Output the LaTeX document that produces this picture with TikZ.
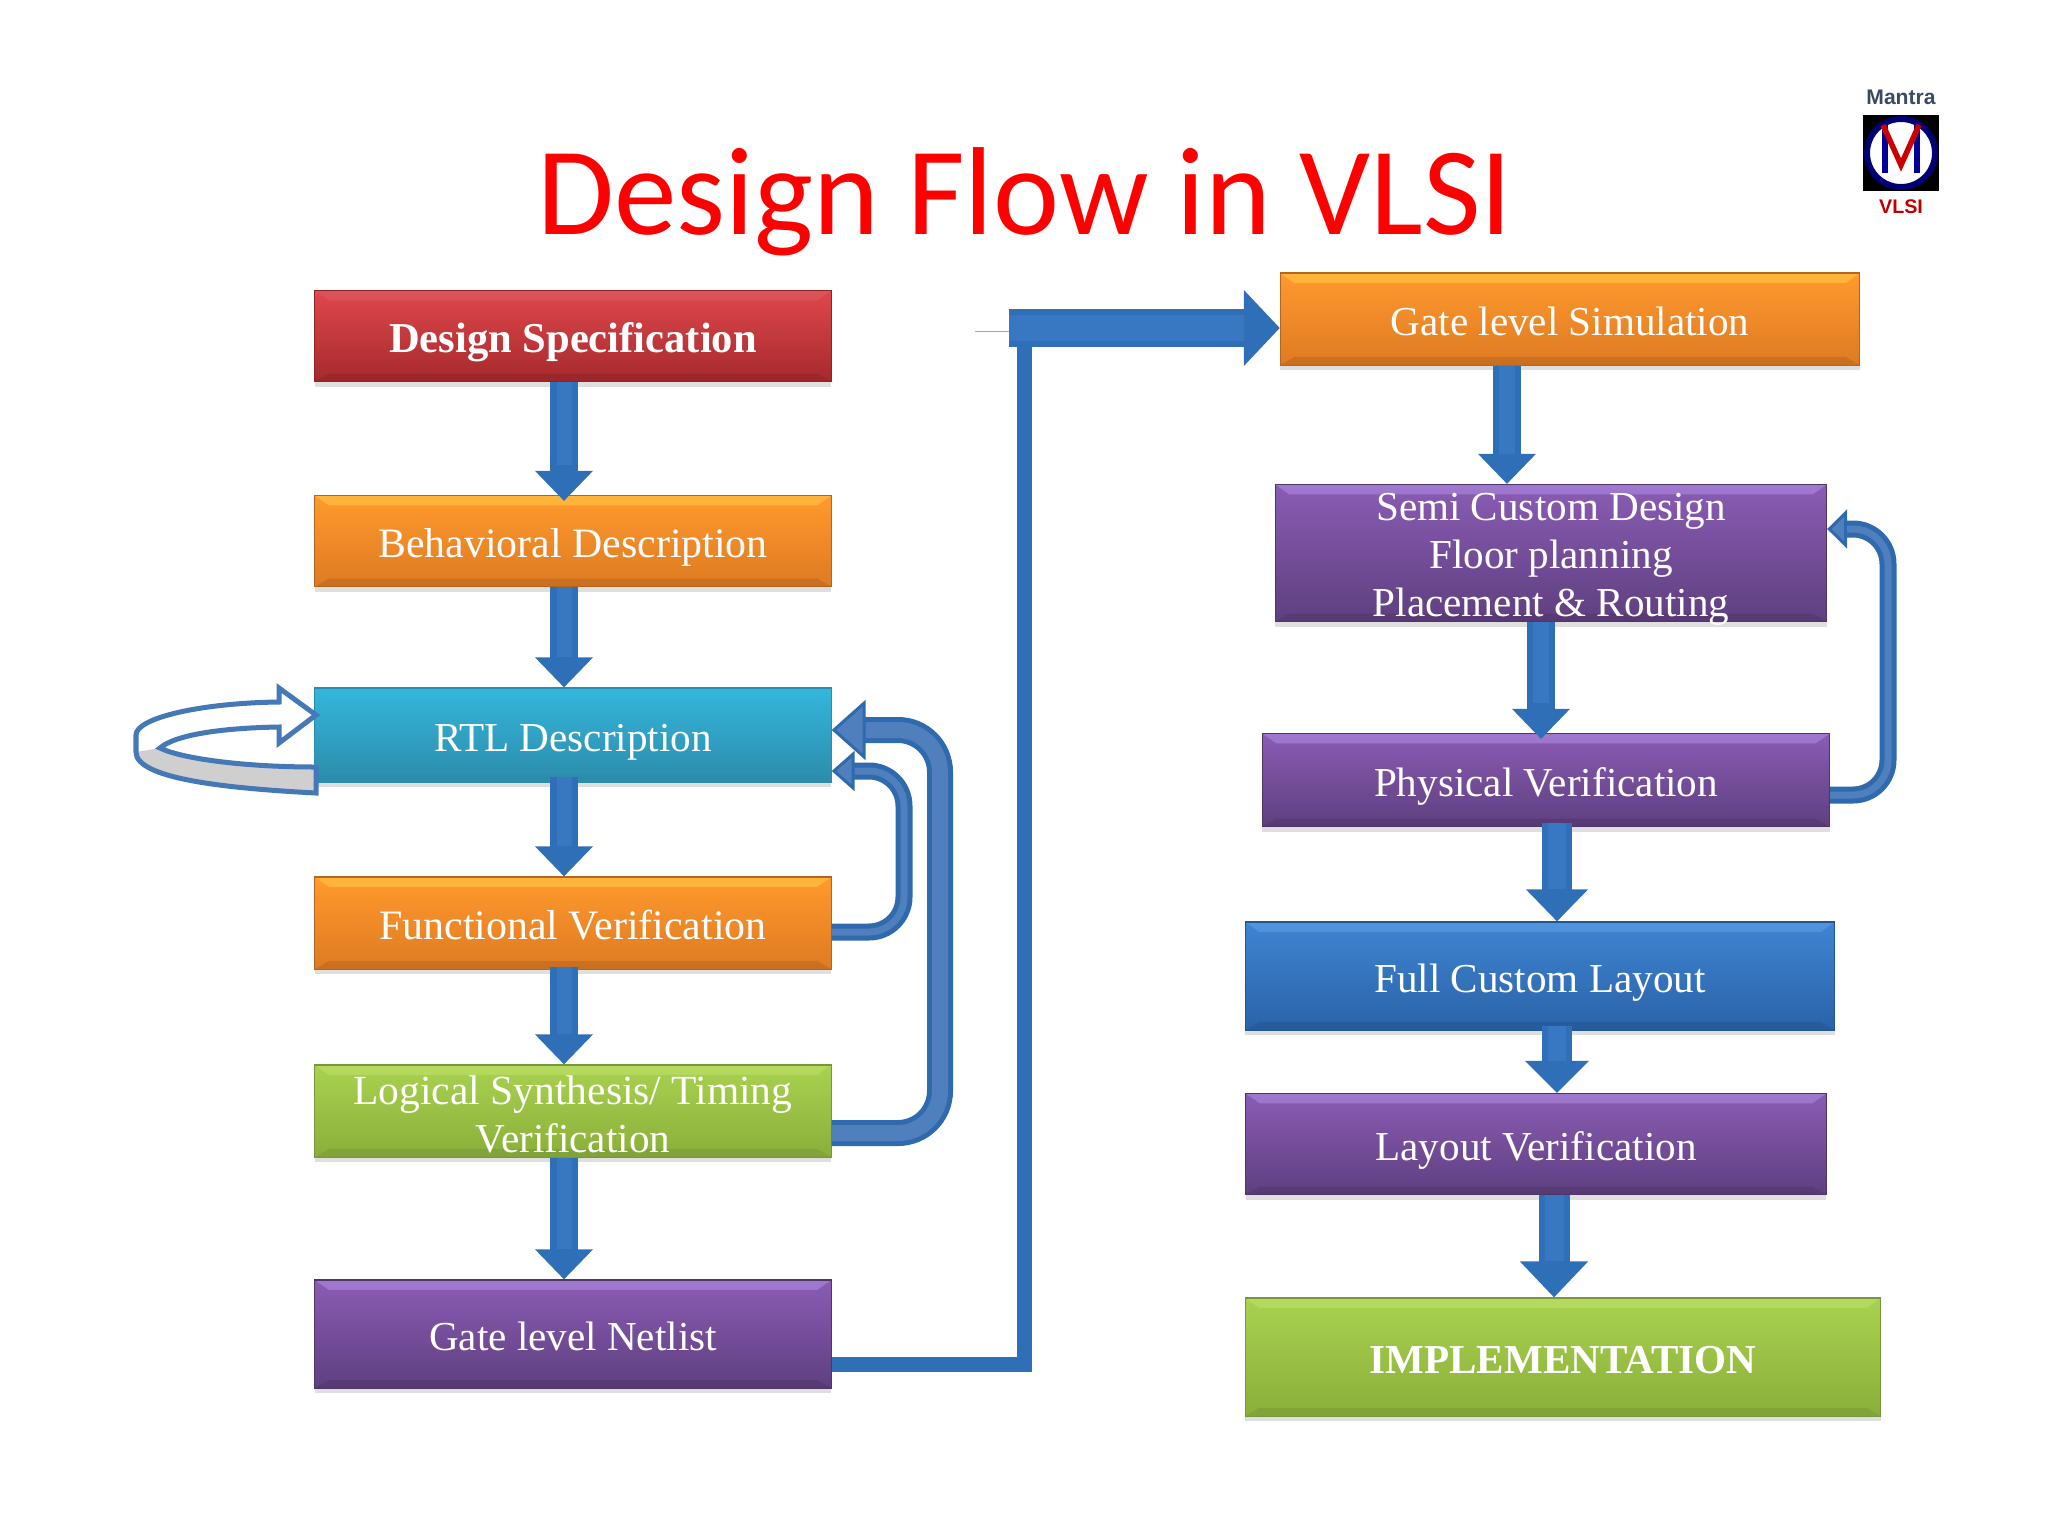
\documentclass[tikz,border=0pt]{standalone}
\usepackage{fontspec}
\setmainfont{Liberation Serif}
\newfontfamily\titlefont{Carlito}
\newfontfamily\logofont{Liberation Sans}
\usetikzlibrary{arrows.meta,shadows}

\definecolor{arrowblue}{HTML}{2F6FB8}
\definecolor{arrowhigh}{HTML}{3878C2}
\definecolor{loopdark}{HTML}{2F69AE}
\definecolor{looplight}{HTML}{4F7FBD}
\definecolor{loopgray}{HTML}{CFCFCF}
\definecolor{logoslate}{HTML}{3B4A63}

\definecolor{redtop}{HTML}{E0474C}
\definecolor{redbot}{HTML}{A52A2C}
\definecolor{redhi}{HTML}{D9595C}
\definecolor{redlo}{HTML}{8F2426}
\definecolor{orangetop}{HTML}{FF9A2E}
\definecolor{orangebot}{HTML}{DE7A22}
\definecolor{orangehi}{HTML}{FFC040}
\definecolor{orangelo}{HTML}{B5651F}
\definecolor{tealtop}{HTML}{34B6DC}
\definecolor{tealbot}{HTML}{2C8CAB}
\definecolor{tealhi}{HTML}{34B6DC}
\definecolor{teallo}{HTML}{2C8CAB}
\definecolor{greentop}{HTML}{A9D24F}
\definecolor{greenbot}{HTML}{8AAF3A}
\definecolor{greenhi}{HTML}{BBDD66}
\definecolor{greenlo}{HTML}{76983A}
\definecolor{purpletop}{HTML}{8A5CB4}
\definecolor{purplebot}{HTML}{5F3F80}
\definecolor{purplehi}{HTML}{A884DA}
\definecolor{purplelo}{HTML}{503569}
\definecolor{bluetop}{HTML}{3F85D2}
\definecolor{bluebot}{HTML}{2A62A8}
\definecolor{bluehi}{HTML}{5A9BE0}
\definecolor{bluelo}{HTML}{24558F}

\tikzset{
    flowbox/.style={
        draw=#1lo, line width=0.3pt, inner sep=0pt, align=center, text=white,
        top color=#1top, bottom color=#1bot,
        font=\fontsize{11.7}{13.7}\selectfont,
        text height=0.33cm, text depth=0cm,
        drop shadow={opacity=0.25, shadow xshift=0cm, shadow yshift=-0.05cm},
        path picture={
            \fill[#1hi, opacity=0.7] (path picture bounding box.north west) -- (path picture bounding box.north east)
                -- ([xshift=-0.14cm,yshift=-0.1cm]path picture bounding box.north east)
                -- ([xshift=0.14cm,yshift=-0.1cm]path picture bounding box.north west) -- cycle;
            \fill[#1lo, opacity=0.5] (path picture bounding box.south west) -- (path picture bounding box.south east)
                -- ([xshift=-0.14cm,yshift=0.08cm]path picture bounding box.south east)
                -- ([xshift=0.14cm,yshift=0.08cm]path picture bounding box.south west) -- cycle;
        }
    },
    downarrow/.style n args={3}{
        draw=arrowblue, line width=#1cm,
        -{Triangle[length=#2cm,width=#3cm,fill=arrowblue]},
        postaction={draw=arrowhigh, line width=#1cm-0.12cm, -, shorten >=#2cm}
    },
    uarrow/.style n args={4}{
        draw=loopdark, line width=#1cm, rounded corners=#4cm,
        -{Triangle[length=#2cm,width=#3cm,fill=looplight,line width=0.03cm]},
        postaction={draw=looplight, line width=#1cm-0.1cm, -, shorten >=#2cm}
    }
}
\begin{document}
\begin{tikzpicture}[x=0.01cm,y=-0.01cm]
    \useasboundingbox (0,0) rectangle (2048,1536);

    % Title
    \node[text=red, font=\titlefont\fontsize{35.6}{38}\selectfont] (title) at (1025,202) {Design Flow in VLSI};

    % Nodes for the left column
    \node[flowbox=red, minimum width=5.16cm, minimum height=0.91cm] (spec) at (573,336) {\fontsize{12.1}{14}\selectfont\textbf{Design Specification}};
    \node[flowbox=orange, minimum width=5.16cm, minimum height=0.91cm] (behav) at (573,541) {\fontsize{11.9}{14}\selectfont Behavioral Description};
    \node[flowbox=teal, minimum width=5.16cm, minimum height=0.94cm] (rtl) at (573,735) {RTL Description};
    \node[flowbox=orange, minimum width=5.16cm, minimum height=0.92cm] (func) at (573,923) {\fontsize{11.9}{14}\selectfont Functional Verification};
    \node[flowbox=green, minimum width=5.16cm, minimum height=0.92cm, text height=0.83cm] (logic) at (573,1111) {\fontsize{11.8}{13.7}\selectfont Logical Synthesis/ Timing\\Verification};
    \node[flowbox=purple, minimum width=5.16cm, minimum height=1.08cm] (net) at (573,1334) {Gate level Netlist};

    % Nodes for the right column
    \node[flowbox=orange, minimum width=5.79cm, minimum height=0.92cm] (sim) at (1570,319) {Gate level Simulation};
    \node[flowbox=purple, minimum width=5.51cm, minimum height=1.37cm, text height=1.27cm] (semi) at (1551,553) {Semi Custom Design\\Floor planning\\Placement \& Routing};
    \node[flowbox=purple, minimum width=5.67cm, minimum height=0.93cm] (phys) at (1546,780) {Physical Verification};
    \node[flowbox=blue, minimum width=5.89cm, minimum height=1.08cm] (full) at (1540,976) {Full Custom Layout};
    \node[flowbox=purple, minimum width=5.80cm, minimum height=1.01cm] (layout) at (1536,1144) {Layout Verification};
    \node[flowbox=green, minimum width=6.35cm, minimum height=1.18cm] (impl) at (1563,1357) {\fontsize{11.7}{14}\selectfont\textbf{IMPLEMENTATION}};

    % Edges for the left column
    \draw[downarrow={0.27}{0.3}{0.56}, shorten >=-0.06cm] (spec.south -| 564,0) -- (behav.north -| 564,0);
    \draw[downarrow={0.27}{0.3}{0.56}] (behav.south -| 564,0) -- (rtl.north -| 564,0);
    \draw[downarrow={0.27}{0.3}{0.56}, shorten <=-0.06cm] (rtl.south -| 564,0) -- (func.north -| 564,0);
    \draw[downarrow={0.27}{0.3}{0.56}, shorten <=-0.03cm] (func.south -| 564,0) -- (logic.north -| 564,0);
    \draw[downarrow={0.27}{0.3}{0.56}] (logic.south -| 564,0) -- (net.north -| 564,0);

    % Edges for the right column
    \draw[downarrow={0.28}{0.3}{0.56}] (sim.south -| 1507,0) -- (semi.north -| 1507,0);
    \draw[downarrow={0.28}{0.3}{0.56}, shorten >=-0.06cm] (semi.south -| 1541,0) -- (phys.north -| 1541,0);
    \draw[downarrow={0.3}{0.32}{0.6}, shorten <=-0.04cm] (phys.south -| 1557,0) -- (full.north -| 1557,0);
    \draw[downarrow={0.3}{0.32}{0.62}, shorten <=-0.05cm] (full.south -| 1557,0) -- (layout.north -| 1557,0);
    \draw[downarrow={0.31}{0.36}{0.66}] (layout.south -| 1554,0) -- (impl.north -| 1554,0);

    % Feedback arrows
    \draw[uarrow={0.17}{0.2}{0.39}{0.35}] (phys.east |- 0,795) -- (1888,795) -- (1888,529) -- (semi.east |- 0,529);
    \draw[uarrow={0.17}{0.23}{0.4}{0.35}] (func.east |- 0,932) -- (904,932) -- (904,771) -- (rtl.east |- 0,771);
    \draw[uarrow={0.26}{0.34}{0.6}{0.42}] (logic.east |- 0,1133) -- (940,1133) -- (940,730) -- (rtl.east |- 0,730);

    % Connection between the two columns
    \coordinate (stub) at (975,331);
    \coordinate (elbow) at (1009,328);
    \draw[gray!70, line width=0.2pt] (stub) -- (elbow |- stub);
    \draw[arrowblue, line width=0.15cm] (net.east |- 0,1364) -- (1024,1364) -- (1024,346);
    \draw[downarrow={0.37}{0.36}{0.74}] (elbow) -- (elbow -| sim.west);

    % Loop on the RTL box
    \fill[loopgray] (160,748) .. controls (180,758) and (240,767) .. (316,767) -- (316,793)
        .. controls (220,788) and (136,778) .. (136,752) -- cycle;
    \draw[loopdark!90!white, line width=0.05cm, line join=miter] (316,793)
        .. controls (220,788) and (136,778) .. (136,752) -- (136,735)
        .. controls (136,718) and (200,703) .. (279,702) -- (279,688) -- (316,715) -- (279,743) -- (279,727)
        .. controls (220,728) and (175,735) .. (160,748)
        .. controls (180,758) and (240,767) .. (316,767) -- cycle;

    % Logo
    \node[text=logoslate, font=\logofont\bfseries\fontsize{6}{7}\selectfont] (mantra) at (1901,97) {Mantra};
    \node[fill=black, minimum size=0.76cm, inner sep=0pt] (square) at (1901,153) {};
    \node[circle, fill=white, draw=blue!45!black, line width=0.06cm, minimum size=0.68cm, inner sep=0pt] (disc) at (square.center) {};
    \draw[blue!60!black, line width=0.06cm] (1885,173) -- (1885,125);
    \draw[blue!60!black, line width=0.06cm] (1917,173) -- (1917,125);
    \draw[red!80!black, line width=0.055cm] (1883,125) -- (1901,165) -- (1919,125);
    \node[text=red!75!black, font=\logofont\bfseries\fontsize{5.6}{6}\selectfont] (vlsi) at (1901,207) {VLSI};
\end{tikzpicture}
\end{document}
